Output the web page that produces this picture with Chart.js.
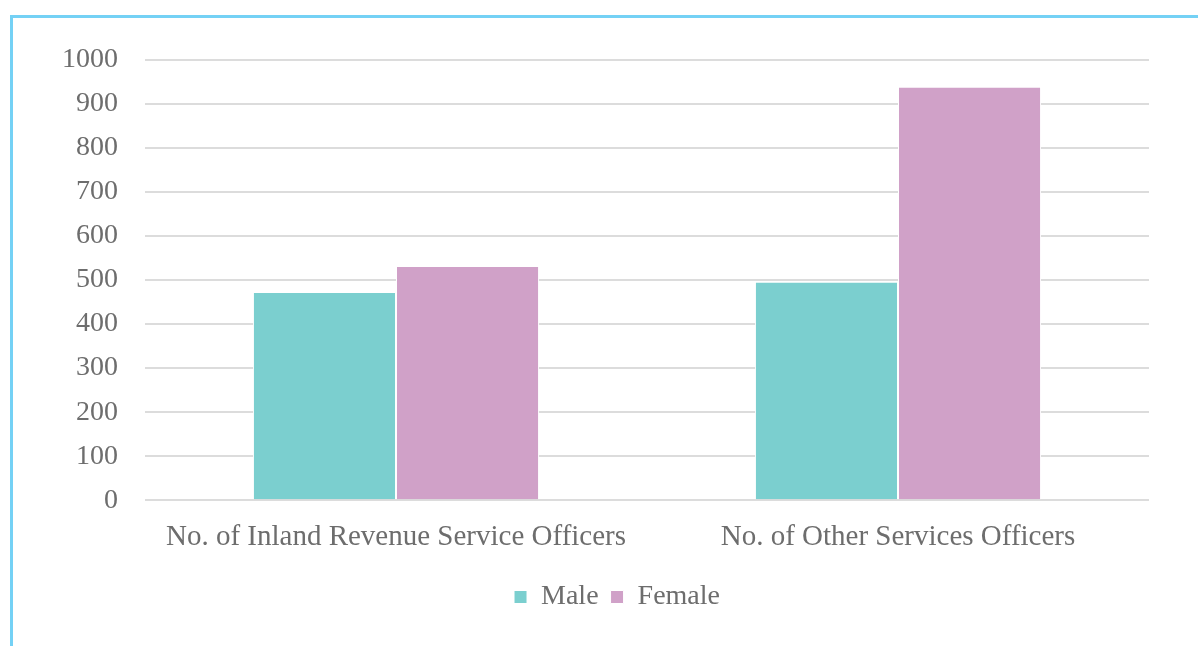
<!DOCTYPE html>
<html>
<head>
<meta charset="utf-8">
<script src="https://cdn.jsdelivr.net/npm/chart.js@4"></script>
<style>
  html, body { margin: 0; padding: 0; background: #fff; }
  #wrap { position: relative; width: 1198px; height: 646px; }
  #frame {
    position: absolute; left: 10px; top: 15px; right: 0; bottom: 0;
    border-left: 3px solid #74d1f5; border-top: 3px solid #74d1f5;
  }
  canvas { position: absolute; left: 0; top: 0; }
</style>
</head>
<body>
<div id="wrap">
  <canvas id="chart" width="1198" height="646"></canvas>
  <div id="frame"></div>
</div>
<script>
const categories = ['No. of Inland Revenue Service Officers', 'No. of Other Services Officers'];
const maleValues = [473, 496];
const femaleValues = [532, 939];
const yMax = 1000;
const yStep = 100;

document.addEventListener('DOMContentLoaded', function() {
    const ctx = document.getElementById('chart').getContext('2d');
    const textColor = '#6d6d6d';
    const family = "'Liberation Serif', 'Times New Roman', serif";

    // nudge the legend so it sits where the original one is
    const legendShift = {
        id: 'legendShift',
        afterLayout(chart) {
            const lg = chart.legend;
            const dx = 25, dy = 4;
            lg.left += dx; lg.right += dx;
            lg.top += dy; lg.bottom += dy;
        }
    };

    new Chart(ctx, {
        type: 'bar',
        data: {
            labels: categories,
            datasets: [{
                label: 'Male',
                data: maleValues,
                backgroundColor: '#7bcfcf',
                borderColor: '#ffffff',
                borderWidth: 1,
                categoryPercentage: 0.57,
                barPercentage: 1.0
            },
            {
                label: 'Female',
                data: femaleValues,
                backgroundColor: '#d0a1c8',
                borderColor: '#ffffff',
                borderWidth: 1,
                categoryPercentage: 0.57,
                barPercentage: 1.0
            }]
        },
        options: {
            responsive: false,
            animation: false,
            layout: {
                padding: { top: 60, right: 49, bottom: 29, left: 35 }
            },
            plugins: {
                legend: {
                    position: 'bottom',
                    labels: {
                        color: textColor,
                        font: { family: family, size: 28 },
                        boxWidth: 13,
                        boxHeight: 13,
                        padding: 12
                    }
                },
                tooltip: { enabled: false }
            },
            scales: {
                y: {
                    min: 0,
                    max: yMax,
                    border: { display: false },
                    grid: {
                        color: '#dcdcdc',
                        lineWidth: 2,
                        drawTicks: false
                    },
                    ticks: {
                        stepSize: yStep,
                        color: textColor,
                        font: { family: family, size: 28 },
                        padding: 27,
                        callback: function(value) { return String(value); }
                    }
                },
                x: {
                    border: { display: false },
                    grid: { display: false },
                    ticks: {
                        color: textColor,
                        font: { family: family, size: 29 },
                        maxRotation: 0,
                        padding: 12
                    }
                }
            }
        },
        plugins: [legendShift]
    });
});
</script>
</body>
</html>
